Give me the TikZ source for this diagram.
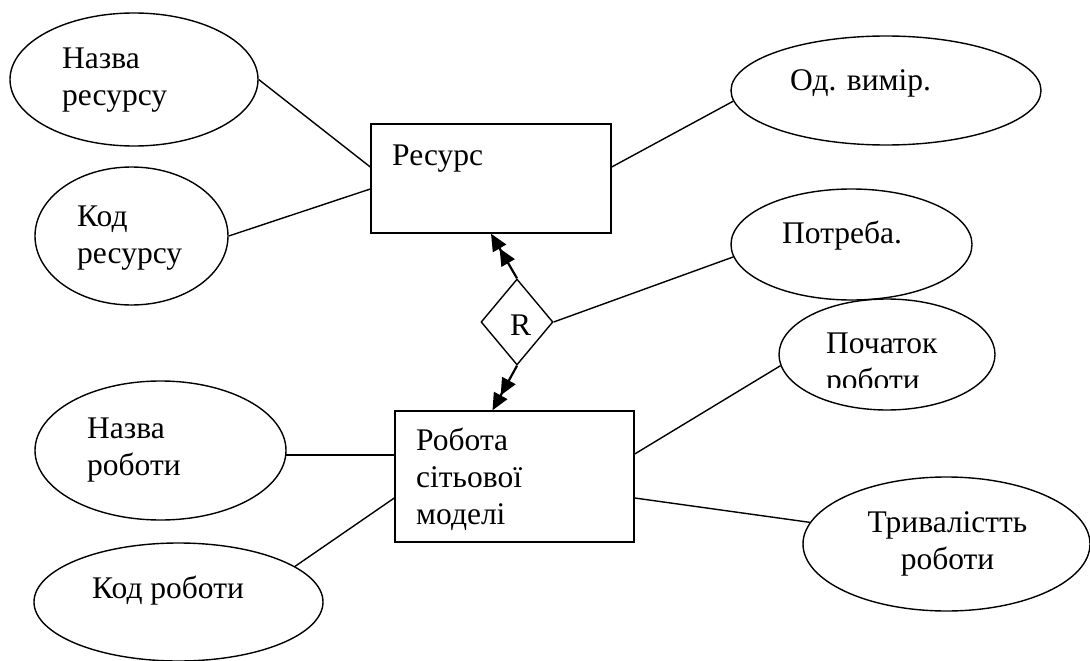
\documentclass[tikz,border=0pt]{standalone}
\usepackage{fontspec}
\setmainfont{Liberation Serif}
\newfontfamily\erfont{Liberation Serif}
\usetikzlibrary{shapes.geometric,arrows.meta}
\begin{document}
\begin{tikzpicture}[x=1pt,y=-1pt,
  attr/.style={draw,ellipse,line width=1.4pt,inner sep=0pt},
  entity/.style={draw,rectangle,line width=1.4pt,inner sep=0pt},
  relship/.style={draw,diamond,line width=1.4pt,inner sep=0pt},
  lbl/.style={inner sep=0pt,font=\erfont\fontsize{31.5}{37}\selectfont,align=left,anchor=base west},
  clbl/.style={inner sep=0pt,font=\erfont\fontsize{31.5}{37}\selectfont,align=center,anchor=base},
  link/.style={line width=1.4pt},
  card/.style={line width=2.2pt,
    -{Triangle[length=17pt,width=15pt,sep=0pt]Triangle[length=17pt,width=15pt,sep=0pt]}},
]
\useasboundingbox (0,0) rectangle (1090,661);

% entities
\node[entity,minimum width=240pt,minimum height=109pt] (res) at (491,178.5) {};
\node[entity,minimum width=239pt,minimum height=131pt] (rob) at (514.5,476.5) {};

% relationship
\node[relship,minimum width=72pt,minimum height=86pt] (rl) at (517,322) {};

% attributes
\node[attr,minimum width=248pt,minimum height=133pt] (nr)  at (134,79.5)  {};
\node[attr,minimum width=193pt,minimum height=138pt] (kr)  at (131.5,236) {};
\node[attr,minimum width=310pt,minimum height=109pt] (od)  at (886,90.5)  {};
\node[attr,minimum width=241pt,minimum height=111pt] (pt)  at (851.5,244.5) {};
\node[attr,minimum width=216pt,minimum height=111pt] (pc)  at (887,354.5) {};
\node[attr,minimum width=251pt,minimum height=139pt] (nrb) at (160.5,450.5) {};
\node[attr,minimum width=289pt,minimum height=118pt] (krb) at (178.5,602) {};
\node[attr,minimum width=287pt,minimum height=134pt] (tr)  at (946.5,544) {};

% texts (base anchor sits on the last line's baseline)
\node[lbl] (tres) at (392,165) {Ресурс};
\node[lbl] (trob) at (416,524) {Робота\\сітьової\\моделі};
\node[lbl] (trl)  at (510,335) {R};
\node[lbl] (tnr)  at (62,106)  {Назва\\ресурсу};
\node[lbl] (tkr)  at (77,263)  {Код\\ресурсу};
\node[lbl] (tod)  at (790,90)  {Од. вимір.};
\node[lbl] (tpt)  at (782,243) {Потреба.};
\node[lbl] (tnrb) at (87,475)  {Назва\\роботи};
\node[lbl] (tkrb) at (92,598)  {Код роботи};
\node[clbl] (ttr) at (947.5,569) {Тривалістть\\роботи};
\begin{scope}
  \clip (770,290) rectangle (1000,387);
  \node[lbl] (tpc) at (826,390) {Початок\\роботи};
\end{scope}

% connectors
\draw[link] (nr.east) -- ([yshift=11.5pt]res.west);
\draw[link] (kr.east) -- ([yshift=-10.5pt]res.west);
\draw[link] ([yshift=11.5pt]res.east) -- (od.184);
\draw[link] (rl.east) -- (pt.186);
\draw[card] (rl.north) -- (res.south);
\draw[card] (rl.south) -- ([xshift=-22pt]rob.north);
\draw[link] (nrb.-2) -- (nrb.-2 -| rob.west);
\draw[link] (krb.17.5) -- ([yshift=-21.5pt]rob.west);
\draw[link] ([yshift=22.5pt]rob.east) -- (pc.186);
\draw[link] ([yshift=-21.5pt]rob.east) -- (tr.171);
\end{tikzpicture}
\end{document}
